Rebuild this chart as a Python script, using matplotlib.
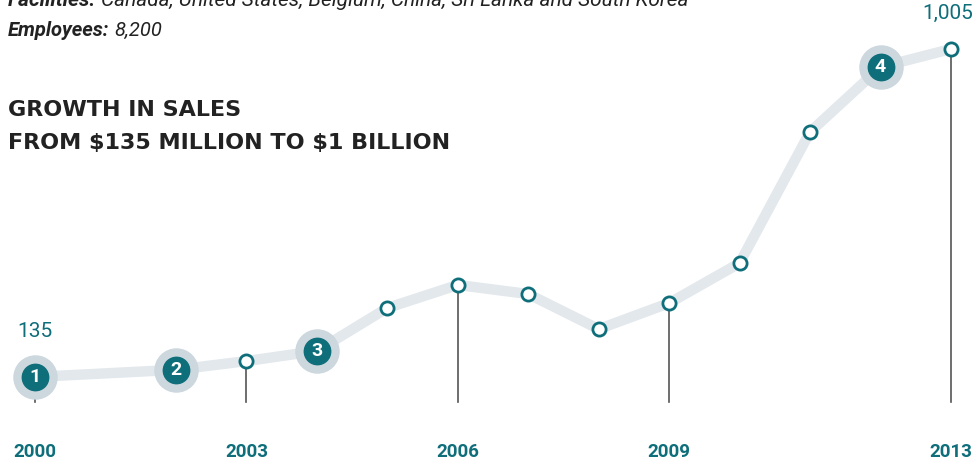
import matplotlib
matplotlib.use("Agg")
import matplotlib.pyplot as plt

# 数据：销售额（百万美元）
years = [2000, 2002, 2003, 2004, 2005, 2006, 2007, 2008, 2009, 2010, 2011, 2012, 2013]
sales = [135, 154, 177, 204, 318, 379, 355, 262, 331, 437, 785, 957, 1005]
milestone_years = [2000, 2002, 2004, 2012]
milestone_labels = ["1", "2", "3", "4"]
tick_years = [2000, 2003, 2006, 2009, 2013]

TEAL = "#0e6e7a"
PALE = "#e3e8ec"
HALO = "#ccd7de"
DARK = "#222222"

plt.rcParams["font.family"] = ["Roboto", "DejaVu Sans"]

W, H = 977, 461
fig = plt.figure(figsize=(W / 100, H / 100), dpi=100)
ax = fig.add_axes([0, 0, 1, 1])
ax.set_xlim(1999.503, 2013.369)
ax.set_ylim(-88, 1135)
ax.axis("off")

val = dict(zip(years, sales))

# 竖线：从点到年份标签
for yr in tick_years:
    ax.plot([yr, yr], [68, val[yr]], color="#555555", lw=1.2, zorder=1)

ax.plot(years, sales, color=PALE, lw=7.5, solid_capstyle="round", zorder=2)

plain = [y for y in years if y not in milestone_years]
ax.plot(plain, [val[y] for y in plain], "o", ms=9.5, mfc="white", mec=TEAL, mew=2, zorder=3)

for yr, lbl in zip(milestone_years, milestone_labels):
    ax.plot(yr, val[yr], "o", ms=31, color=HALO, zorder=4)
    ax.plot(yr, val[yr], "o", ms=19, color=TEAL, zorder=5)
    ax.text(yr, val[yr], lbl, color="white", fontsize=14, fontweight="bold",
            ha="center", va="center", zorder=6)

for yr in tick_years:
    ax.text(yr, -64, str(yr), color=TEAL, fontsize=13.5, fontweight="bold",
            ha="center", va="center")

ax.text(years[0], 255, f"{sales[0]:,}", color=TEAL, fontsize=15, ha="center", va="center")
ax.text(years[-1] - 0.04, 1100, f"{sales[-1]:,}", color=TEAL, fontsize=15, ha="center", va="center")


def px(x, y):
    return x / W, 1 - y / H


renderer = fig.canvas.get_renderer()


def label_line(x, y, head, body, size):
    t = fig.text(*px(x, y), head, fontsize=size, style="italic", fontweight="bold",
                 color=DARK, va="center")
    x1 = t.get_window_extent(renderer).x1
    fig.text(*px(x1 + 5, y), body, fontsize=size, style="italic", color=DARK, va="center")


label_line(8, 0, "Facilities:", "Canada, United States, Belgium, China, Sri Lanka and South Korea", 15)
label_line(8, 30, "Employees:", "8,200", 14.5)

fig.text(*px(8, 110), "GROWTH IN SALES", fontsize=16, fontweight="bold",
         color=DARK, va="center", family=["DejaVu Sans"])
fig.text(*px(8, 143), r"FROM \$135 MILLION TO \$1 BILLION", fontsize=16, fontweight="bold",
         color=DARK, va="center", family=["DejaVu Sans"])

fig.savefig("out.png", dpi=100)
